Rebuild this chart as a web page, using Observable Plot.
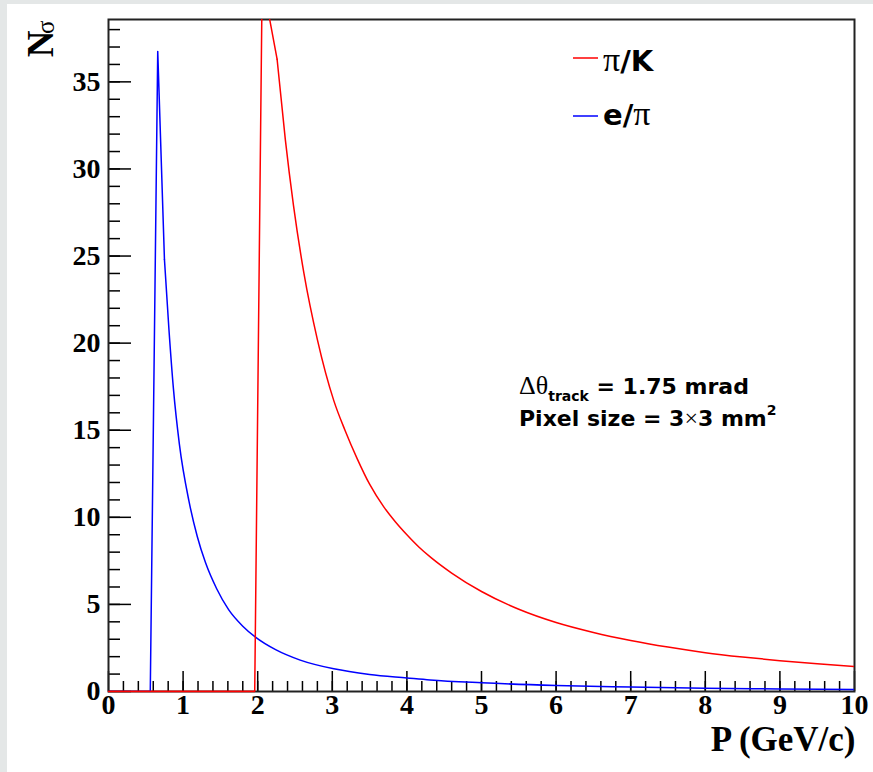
<!DOCTYPE html>
<html><head><meta charset="utf-8">
<script src="https://cdn.jsdelivr.net/npm/d3@7"></script>
<script src="https://cdn.jsdelivr.net/npm/@observablehq/plot@0.6"></script>
<style>
html,body{margin:0;padding:0;background:#e4e7e7;width:873px;height:772px;overflow:hidden;}
#chart{position:absolute;left:7px;top:4px;width:866px;height:768px;background:#fff;}
</style></head><body><div id="chart"></div>
<script>
// pi/K separation (red)
const piK_p = [0, 1.96, 2.06, 2.16, 2.26, 2.37, 2.48, 2.62, 2.80, 3.02, 3.17, 3.33, 3.50, 3.69, 3.85, 4.00, 4.16, 4.32, 4.60, 5.0, 5.5, 6.0, 6.5, 7.0, 7.5, 8.0, 8.5, 9.0, 9.5, 10.0];
const piK_n = [0, 0, 40.8, 38.6, 36.3, 31.7, 27.9, 24.0, 20.2, 16.7, 15.0, 13.4, 11.9, 10.6, 9.72, 9.0, 8.3, 7.7, 6.8, 5.74, 4.72, 3.96, 3.39, 2.93, 2.55, 2.23, 1.98, 1.77, 1.59, 1.43];
// e/pi separation (blue)
const ePi_p = [0, 0.56, 0.66, 0.75, 0.81, 0.87, 0.95, 1.08, 1.19, 1.30, 1.45, 1.61, 1.80, 1.97, 2.24, 2.57, 3.02, 3.50, 4.00, 4.31, 5.0, 6.0, 7.0, 8.0, 9.0, 10.0];
const ePi_n = [0, 0, 36.75, 24.8, 20.8, 17.4, 14.2, 10.9, 8.9, 7.4, 5.9, 4.7, 3.75, 3.12, 2.4, 1.8, 1.3, 0.98, 0.78, 0.66, 0.5, 0.35, 0.26, 0.19, 0.15, 0.12];

const xTicks = [0, 1, 2, 3, 4, 5, 6, 7, 8, 9, 10];
const yTicks = [0, 5, 10, 15, 20, 25, 30, 35];
const xMinor = d3.range(1, 50).map(i => i / 5);
const yMinor = d3.range(1, 39);
const xTitle = "P (GeV/c)";

const W = 866, H = 768, mL = 101, mT = 15, mR = 19, mB = 81;
const innerW = W - mL - mR, innerH = H - mT - mB;

const red = piK_p.map((p, i) => ({p, n: piK_n[i]}));
const blue = ePi_p.map((p, i) => ({p, n: ePi_n[i]}));
// rise + peak drawn straight, the falling tail drawn as a smooth curve
const redKink = 4, blueKink = 3;

const serif = "'Liberation Serif', 'Times New Roman', serif";
const sans = "'DejaVu Sans', sans-serif";
const lineOpts = (c, curve) => ({x: "p", y: "n", stroke: c, strokeWidth: 1.5, clip: true, curve});

const svg = Plot.plot({
  width: W, height: H,
  marginLeft: mL, marginTop: mT, marginRight: mR, marginBottom: mB,
  style: {background: "white", overflow: "visible"},
  x: {domain: [0, 10], axis: null},
  y: {domain: [0, 38.58], axis: null},
  marks: [
    Plot.tickX(xMinor, {x: d => d, insetTop: innerH - 10, stroke: "#000", strokeWidth: 1.5}),
    Plot.tickX(xTicks, {x: d => d, insetTop: innerH - 20, stroke: "#000", strokeWidth: 1.5}),
    Plot.tickY(yMinor, {y: d => d, insetRight: innerW - 12, stroke: "#000", strokeWidth: 1.5}),
    Plot.tickY(yTicks, {y: d => d, insetRight: innerW - 23, stroke: "#000", strokeWidth: 1.5}),
    Plot.frame({stroke: "#222", strokeWidth: 2}),
    Plot.line(blue.slice(0, blueKink + 1), lineOpts("#0000ff", "linear")),
    Plot.line(blue.slice(blueKink), lineOpts("#0000ff", "monotone-x")),
    Plot.line(red.slice(0, redKink + 1), lineOpts("#ff0000", "linear")),
    Plot.line(red.slice(redKink), lineOpts("#ff0000", "monotone-x")),
    Plot.line(red.filter(d => d.n === 0), {x: "p", y: "n", stroke: "#ff0000", strokeWidth: 1.5}),
    Plot.text(xTicks, {x: d => d, frameAnchor: "bottom", dy: 22.5, text: d => String(d), fontSize: 28, fontWeight: "bold", fontFamily: serif, fill: "#000"}),
    Plot.text(yTicks, {y: d => d, frameAnchor: "left", dx: -8, textAnchor: "end", text: d => String(d), fontSize: 28, fontWeight: "bold", fontFamily: serif, fill: "#000"}),
    Plot.text([xTitle], {frameAnchor: "bottom-right", textAnchor: "end", dx: 1, dy: 59.5, text: d => d, fontSize: 35, fontWeight: "bold", fontFamily: serif, fill: "#000"}),
    Plot.text(["N"], {frameAnchor: "top-left", rotate: -90, textAnchor: "end", dx: -81.5, dy: 11, text: d => d, fontSize: 37, fontWeight: "bold", fontFamily: serif, fill: "#000"}),
    Plot.text(["σ"], {frameAnchor: "top-left", rotate: -90, textAnchor: "end", dx: -72.7, dy: 1, text: d => d, fontSize: 25, fontWeight: "normal", fontFamily: serif, fill: "#000"})
  ]
});

const g = d3.select(svg).append("g").attr("class", "legend").attr("text-anchor", "start");
// legend entries
const leg = [
  {color: "#ff0000", y: 54, base: 67, parts: [["π", serif, "normal", 34], ["/K", sans, "bold", 29]]},
  {color: "#0000ff", y: 112, base: 121, parts: [["e/", sans, "bold", 29], ["π", serif, "normal", 34]]}
];
leg.forEach(e => {
  g.append("line").attr("x1", 566).attr("x2", 591).attr("y1", e.y).attr("y2", e.y)
    .attr("stroke", e.color).attr("stroke-width", 1.5);
  const t = g.append("text").attr("x", 596).attr("y", e.base).attr("fill", "#000").attr("text-anchor", "start");
  e.parts.forEach(([s, f, w, fs]) => t.append("tspan").attr("font-family", f).attr("font-weight", w).attr("font-size", fs).text(s));
});

// annotation
const a1 = g.append("text").attr("x", 512).attr("y", 390).attr("fill", "#000").attr("text-anchor", "start");
a1.append("tspan").attr("font-family", serif).attr("font-size", 26).text("Δθ");
a1.append("tspan").attr("font-family", sans).attr("font-weight", "bold").attr("font-size", 14).attr("dy", 7).text("track");
a1.append("tspan").attr("font-family", sans).attr("font-weight", "bold").attr("font-size", 22).attr("dy", -7).text(" = 1.75 mrad");

const a2 = g.append("text").attr("x", 512).attr("y", 422).attr("fill", "#000").attr("text-anchor", "start");
a2.append("tspan").attr("font-family", sans).attr("font-weight", "bold").attr("font-size", 22).text("Pixel size = 3");
a2.append("tspan").attr("font-family", serif).attr("font-size", 24).text("×");
a2.append("tspan").attr("font-family", sans).attr("font-weight", "bold").attr("font-size", 22).text("3 mm");
a2.append("tspan").attr("font-family", sans).attr("font-weight", "bold").attr("font-size", 14).attr("dy", -11).text("2");

document.getElementById("chart").appendChild(svg);
</script>
</body></html>
